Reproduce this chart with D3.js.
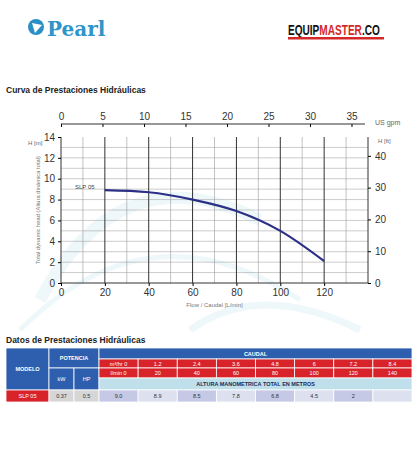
<!DOCTYPE html><html><head><meta charset="utf-8"><script src="https://cdn.jsdelivr.net/npm/d3@7"></script>
<style>body{margin:0;background:#fff}text{font-family:"Liberation Sans",Arial,sans-serif}</style></head><body>
<svg id="c" width="416" height="475"></svg>
<script>
const flow=[20,40,60,80,100,120];
const head=[8.9,8.7,8.0,6.9,5.0,2.1];
const gpmTicks=[0,5,10,15,20,25,30,35];
const ftTicks=[0,10,20,30,40];
const m3hr=["0","1.2","2.4","3.6","4.8","6","7.2","8.4"];
const lmin=["0","20","40","60","80","100","120","140"];
const alturas=["9.0","8.9","8.5","7.8","6.8","4.5","2",""];
const model="SLP 05", kw="0.37", hp="0.5";

const svg=d3.select("#c");
const wm=svg.append("g").attr("fill","none").attr("stroke","#cfeaf2").attr("opacity",0.35);
wm.append("path").attr("d","M40,300 Q120,150 260,220").attr("stroke-width",12);
wm.append("path").attr("d","M20,330 Q150,200 300,300").attr("stroke-width",5);
wm.append("path").attr("d","M190,330 Q260,280 360,330").attr("stroke-width",7);

svg.append("circle").attr("cx",36).attr("cy",27).attr("r",8).attr("fill","#2a8fc4");
svg.append("path").attr("d","M32,23 L42,25 L35,33 Z").attr("fill","#fff");
svg.append("text").attr("x",47).attr("y",36).style("font-family","DejaVu Serif").attr("font-weight","bold").attr("font-size",20).attr("fill","#2f95c8").text("Pearl");
const eqg=svg.append("g").attr("transform","translate(288,35) scale(0.72,1)");
const eqt=eqg.append("text").attr("font-weight","bold").attr("font-size",14);
[["EQUIP","#111"],["MASTER","#d62828"],[".CO","#111"]].forEach(([t,c])=>eqt.append("tspan").attr("fill",c).text(t));
svg.append("rect").attr("x",288).attr("y",37).attr("width",96).attr("height",2.5).attr("fill","#d62828");

svg.append("text").attr("x",6).attr("y",93).attr("font-weight","bold").attr("font-size",8.5).attr("fill","#222").text("Curva de Prestaciones Hidráulicas");

const L=61,R=368,T=137,B=283;
const x=d3.scaleLinear().domain([0,140]).range([L,R]);
const y=d3.scaleLinear().domain([0,14]).range([B,T]);
const g=svg.append("g");
d3.range(1,14).forEach(v=>g.append("line").attr("x1",L).attr("x2",R).attr("y1",y(v)).attr("y2",y(v)).attr("stroke","#999").attr("stroke-width",0.5));
d3.range(10,140,10).forEach(v=>g.append("line").attr("x1",x(v)).attr("x2",x(v)).attr("y1",T).attr("y2",B).attr("stroke",v%20?"#999":"#333").attr("stroke-width",v%20?0.6:1));
g.append("line").attr("x1",L).attr("x2",L).attr("y1",T).attr("y2",B).attr("stroke","#333");
g.append("line").attr("x1",R).attr("x2",R).attr("y1",T).attr("y2",B).attr("stroke","#333");
g.append("line").attr("x1",L).attr("x2",R).attr("y1",B).attr("y2",B).attr("stroke","#333");
svg.append("g").attr("transform",`translate(0,${B})`).call(d3.axisBottom(x).tickValues([0,20,40,60,80,100,120]).tickSize(3).tickPadding(3)).call(a=>{a.select(".domain").remove();a.selectAll("text").attr("font-size",10).attr("fill","#333");});
svg.append("g").attr("transform",`translate(${L},0)`).call(d3.axisLeft(y).tickValues(d3.range(0,15,2)).tickSize(3).tickPadding(3)).call(a=>{a.select(".domain").remove();a.selectAll("text").attr("font-size",10).attr("fill","#333");});
const ft=d3.scaleLinear().domain([0,14/0.3048]).range([B,T]);
svg.append("g").attr("transform",`translate(${R},0)`).call(d3.axisRight(ft).tickValues(ftTicks).tickSize(3).tickPadding(4)).call(a=>{a.select(".domain").remove();a.selectAll("text").attr("font-size",10).attr("fill","#333");});
const gp=d3.scaleLinear().domain([0,140/3.785]).range([L,R]);
svg.append("g").attr("transform",`translate(0,124)`).call(d3.axisTop(gp).tickValues(gpmTicks).tickSize(-3).tickPadding(3)).call(a=>{a.select(".domain").attr("d",`M${L},0H365`).attr("stroke","#333");a.selectAll("text").attr("font-size",10).attr("fill","#333").attr("dy","-0.1em");});
svg.append("text").attr("x",375).attr("y",125).attr("font-size",7).attr("fill","#666").text("US gpm");
svg.append("text").attr("x",378).attr("y",143).attr("font-size",6).attr("fill","#666").text("H [ft]");
svg.append("text").attr("x",28).attr("y",145).attr("font-size",6).attr("fill","#666").text("H [m]");
svg.append("text").attr("transform","translate(40,210) rotate(-90)").attr("text-anchor","middle").attr("font-size",5.8).attr("fill","#777").text("Total dynamic head (Altura dinámica total)");
svg.append("text").attr("x",x(70)).attr("y",307).attr("text-anchor","middle").attr("font-size",6).attr("fill","#777").text("Flow / Caudal [L/min]");
svg.append("text").attr("x",75).attr("y",189).attr("font-size",6).attr("fill","#444").text(model);
svg.append("path").datum(flow.map((f,i)=>[f,head[i]])).attr("fill","none").attr("stroke","#2b2f86").attr("stroke-width",2.2)
 .attr("d",d3.line().x(d=>x(d[0])).y(d=>y(d[1])).curve(d3.curveMonotoneX));

svg.append("text").attr("x",6).attr("y",343).attr("font-weight","bold").attr("font-size",8.5).attr("fill","#222").text("Datos de Prestaciones Hidráulicas");
const tb=svg.append("g").attr("font-size",5.5).attr("text-anchor","middle");
const blue="#2d5fae",red="#d8232a",lb="#bfe0ea";
const cx=d3.scaleBand().domain(d3.range(8)).range([99,412]);
function cell(x0,y0,w,h,fill,txt,col,bold){tb.append("rect").attr("x",x0).attr("y",y0).attr("width",w).attr("height",h).attr("fill",fill).attr("stroke","#fff").attr("stroke-width",0.8);
 if(txt!==undefined)tb.append("text").attr("x",x0+w/2).attr("y",y0+h/2+2).attr("fill",col||"#fff").attr("font-weight",bold?"bold":null).text(txt);}
cell(6,348,43,42,blue,"MODELO","#fff",true);
cell(49,348,50,20,blue,"POTENCIA","#fff",true);
cell(49,368,25,22,blue,"kW");cell(74,368,25,22,blue,"HP");
cell(99,348,313,11,blue,"CAUDAL","#fff",true);
m3hr.forEach((v,i)=>cell(cx(i),359,cx.bandwidth(),9,red,i?v:"m³/hr  "+v));
lmin.forEach((v,i)=>cell(cx(i),368,cx.bandwidth(),10,red,i?v:"l/min  "+v));
cell(99,378,313,12,lb,"ALTURA MANOMETRICA TOTAL EN METROS","#1a2a5a",true);
cell(6,390,43,12,red,model);cell(49,390,25,12,"#d6d6d6",kw,"#333");cell(74,390,25,12,"#d6d6d6",hp,"#333");
alturas.forEach((v,i)=>cell(cx(i),390,cx.bandwidth(),12,i%2?"#dde0ef":"#c5c9e6",v,"#333"));
</script></body></html>
